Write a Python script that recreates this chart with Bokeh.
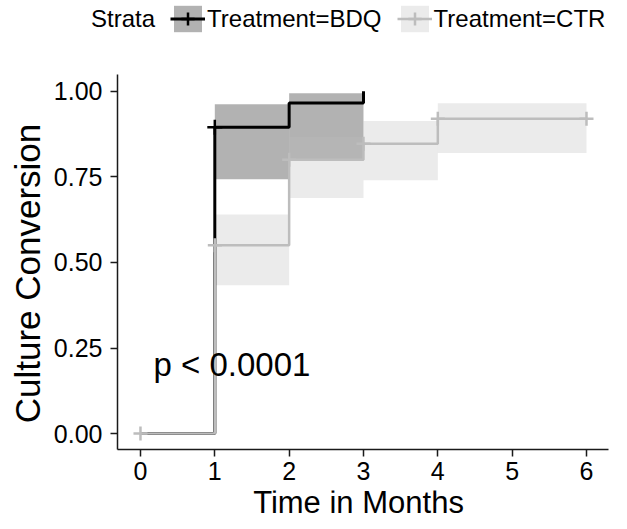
import math
from bokeh.plotting import figure
from bokeh.layouts import column, row
from bokeh.models import Range1d, Label, Legend, LegendItem, FixedTicker, NumeralTickFormatter
from bokeh.embed import file_html
from bokeh.resources import INLINE

# ---- data ----
bdq_time = [0, 1, 2, 3]
bdq_surv = [0.0, 0.895, 0.966, 1.0]
bdq_ci_left = [1, 2]
bdq_ci_right = [2, 3]
bdq_ci_lower = [0.743, 0.797]
bdq_ci_upper = [0.962, 0.994]
bdq_censor_time = [1]
bdq_censor_surv = [0.895]

ctr_time = [0, 1, 2, 3, 4, 6]
ctr_surv = [0.0, 0.55, 0.80, 0.847, 0.92, 0.92]
ctr_ci_left = [1, 2, 3, 4]
ctr_ci_right = [2, 3, 4, 6]
ctr_ci_lower = [0.433, 0.688, 0.74, 0.82]
ctr_ci_upper = [0.64, 0.867, 0.913, 0.965]
ctr_censor_time = [0, 1, 2, 3, 4, 6]
ctr_censor_surv = [0.0, 0.55, 0.80, 0.847, 0.92, 0.92]

x_ticks = [0, 1, 2, 3, 4, 5, 6]
y_ticks = [0.0, 0.25, 0.5, 0.75, 1.0]

legend_title = "Strata"
strata_labels = ["Treatment=BDQ", "Treatment=CTR"]
x_title = "Time in Months"
y_title = "Culture Conversion"
p_text = "p < 0.0001"

FONT = "Liberation Sans"
BDQ_COLOR = "#000000"
CTR_COLOR = "#bdbdbd"


def bare(width, height, xr, yr, **kw):
    args = dict(min_border=0, min_border_left=0, min_border_right=0,
                min_border_top=0, min_border_bottom=0)
    args.update(kw)
    f = figure(width=width, height=height, output_backend="svg", toolbar_location=None,
               title=None, x_range=xr, y_range=yr,
               x_axis_location=None, y_axis_location=None, **args)
    f.outline_line_color = None
    f.grid.visible = False
    return f


def draw_series(f):
    bq = f.quad(left=bdq_ci_left, right=bdq_ci_right, bottom=bdq_ci_lower, top=bdq_ci_upper,
                fill_color=BDQ_COLOR, fill_alpha=0.3, line_color=None)
    cq = f.quad(left=ctr_ci_left, right=ctr_ci_right, bottom=ctr_ci_lower, top=ctr_ci_upper,
                fill_color=CTR_COLOR, fill_alpha=0.3, line_color=None)
    bl = f.step(bdq_time, bdq_surv, mode="after", line_color=BDQ_COLOR, line_width=3)
    cl = f.step(ctr_time, ctr_surv, mode="after", line_color=CTR_COLOR, line_width=2.5)
    bc = f.scatter(bdq_censor_time, bdq_censor_surv, marker="cross", size=15,
                   line_color=BDQ_COLOR, line_width=2.5)
    cc = f.scatter(ctr_censor_time, ctr_censor_surv, marker="cross", size=14,
                   line_color=CTR_COLOR, line_width=2.5)
    return bq, cq, bl, cl, bc, cc


# ---- top strip: legend ----
ft = bare(611, 40, Range1d(100, 101), Range1d(100, 101))
tbq, tcq, tbl, tcl, tbc, tcc = draw_series(ft)
dummy = ft.scatter(bdq_time, bdq_surv, marker="circle", size=1, fill_alpha=0, line_alpha=0)
legend = Legend(items=[LegendItem(label=legend_title, renderers=[dummy]),
                       LegendItem(label=strata_labels[0], renderers=[tbq, tbl, tbc]),
                       LegendItem(label=strata_labels[1], renderers=[tcq, tcl, tcc])],
                orientation="horizontal", location=(54, 5),
                glyph_width=35, glyph_height=33, label_standoff=2, spacing=15,
                padding=0, margin=0, border_line_color=None, background_fill_alpha=0,
                label_text_font=FONT, label_text_font_size="24px", label_text_color="black")
ft.add_layout(legend, "center")

# ---- left strip: y axis title ----
fy = bare(50, 473, Range1d(0, 50), Range1d(473, 0))
fy.add_layout(Label(x=27, y=233, text=y_title, angle=math.pi / 2,
                    text_font=FONT, text_font_size="35px", text_baseline="middle",
                    text_align="center", text_color="black"))

# ---- main plot ----
p = figure(width=561, height=450, output_backend="svg", toolbar_location=None, title=None,
           x_range=Range1d(-0.309, 6.296), y_range=Range1d(-0.0465, 1.049),
           min_border_left=67, min_border_right=3, min_border_top=34, min_border_bottom=41)
p.outline_line_color = None
p.grid.visible = False

for ax in (p.xaxis[0], p.yaxis[0]):
    ax.axis_line_color = "#1a1a1a"
    ax.axis_line_width = 1.5
    ax.major_tick_line_color = "#1a1a1a"
    ax.major_tick_line_width = 1.5
    ax.major_tick_out = 7
    ax.major_tick_in = 0
    ax.minor_tick_line_color = None
    ax.major_label_text_font = FONT
    ax.major_label_text_font_size = "25px"
    ax.major_label_text_color = "black"

p.xaxis.ticker = FixedTicker(ticks=x_ticks)
p.yaxis.ticker = FixedTicker(ticks=y_ticks)
p.yaxis.formatter = NumeralTickFormatter(format="0.00")
p.xaxis.major_label_standoff = 5
p.yaxis.major_label_standoff = 8

draw_series(p)

p.add_layout(Label(x=0.175, y=0.203, text=p_text, text_font=FONT, text_font_size="33px",
                   text_baseline="middle", text_align="left", text_color="black"))

# ---- bottom strip: x axis title (shares the main x scale) ----
fb = bare(561, 23, p.x_range, Range1d(23, 0), min_border_left=67, min_border_right=3)
fb.add_layout(Label(x=2.933, y=11.8, text=x_title, text_font=FONT, text_font_size="31px",
                    text_baseline="middle", text_align="center", text_color="black"))

layout = column(ft, row(fy, column(p, fb, spacing=0), spacing=0), spacing=0)

open("out.html", "w").write(file_html(layout, INLINE))
